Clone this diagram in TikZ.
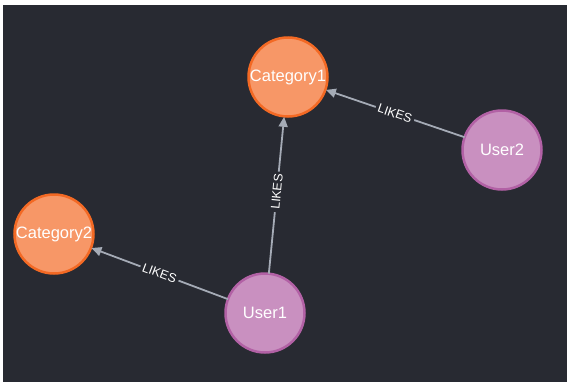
\documentclass[tikz,border=0pt]{standalone}
\usepackage{fontspec}
\setmainfont{Liberation Sans}
\usetikzlibrary{arrows.meta}
\definecolor{bgdark}{RGB}{40,42,50}
\definecolor{catfill}{RGB}{247,151,103}
\definecolor{catline}{RGB}{243,105,36}
\definecolor{userfill}{RGB}{201,144,192}
\definecolor{userline}{RGB}{178,97,165}
\definecolor{edgecol}{RGB}{165,171,182}
\tikzset{
  gnode/.style={circle, minimum size=79pt, inner sep=0pt, outer sep=0pt, line width=2.5pt, text=white, font=\fontsize{16.5}{19}\selectfont},
  catnode/.style={gnode, fill=catfill, draw=catline},
  usernode/.style={gnode, fill=userfill, draw=userline},
  reledge/.style={draw=edgecol, line width=1.8pt, -{Triangle[length=10pt,width=9pt]}, shorten >=0.5pt},
  rellabel/.style={sloped, fill=bgdark, text=white, inner sep=2.5pt, font=\fontsize{12.5}{14}\selectfont},
}
\begin{document}
\begin{tikzpicture}[x=1pt,y=-1pt]
\useasboundingbox (0,0) rectangle (567,383);
\fill[white] (0,0) rectangle (567,383);
\fill[bgdark] (3,5) rectangle (567,382);
\node[catnode] (c1) at (288,77) {Category1};
\node[usernode] (u2) at (502,150) {User2};
\node[catnode] (c2) at (54,234) {Category2};
\node[usernode] (u1) at (265,313) {User1};
\draw[reledge] (u2) -- node[rellabel] {LIKES} (c1);
\draw[reledge] (u1) -- node[rellabel, pos=0.52] {LIKES} (c1);
\draw[reledge] (u1) -- node[rellabel] {LIKES} (c2);
\end{tikzpicture}
\end{document}
